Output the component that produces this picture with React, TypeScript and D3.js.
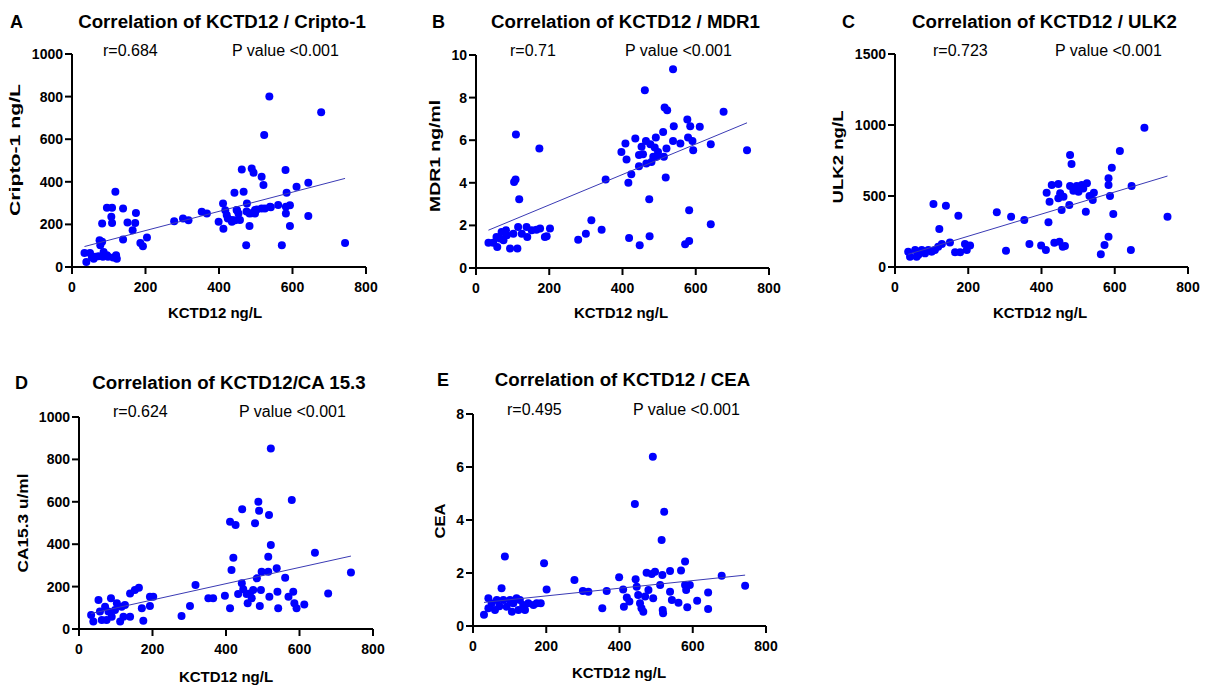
import React from "react"
import * as d3 from "d3"

// KCTD12 (ng/L) vs each marker
const criptoPoints = [
  [34, 66], [39, 24], [49, 66], [54, 47], [59, 39], [63, 48], [72, 50], [75, 126], [77, 102], [82, 118],
  [82, 204], [84, 48], [86, 71], [95, 55], [95, 278], [98, 48], [107, 236], [109, 278], [109, 207], [112, 45],
  [118, 353], [120, 55], [122, 39], [139, 129], [139, 275], [151, 209], [165, 173], [172, 207], [174, 254],
  [186, 113], [193, 97], [204, 138], [278, 215], [302, 228], [317, 220], [353, 259], [367, 251], [399, 212],
  [411, 298], [412, 179], [417, 267], [421, 244], [424, 228], [435, 212], [435, 221], [442, 349], [444, 220],
  [448, 268], [449, 267], [453, 251], [457, 221], [462, 458], [467, 353], [474, 102], [475, 260], [476, 298],
  [483, 192], [483, 251], [489, 463], [489, 252], [494, 443], [498, 251], [498, 268], [503, 270], [516, 424],
  [516, 275], [521, 385], [523, 620], [525, 275], [537, 801], [539, 283], [541, 280], [561, 291], [571, 102],
  [581, 455], [582, 251], [582, 283], [584, 349], [593, 290], [593, 192], [611, 377], [643, 396], [643, 239],
  [678, 727], [743, 113],
]

const mdr1Points = [
  [34, 1.18], [47, 1.18], [56, 1.46], [58, 0.99], [65, 1.38], [70, 1.69], [75, 1.3], [82, 1.77], [84, 1.54],
  [93, 0.91], [102, 1.61], [104, 4.04], [108, 4.15], [109, 6.27], [113, 0.91], [115, 1.93], [118, 3.23],
  [125, 1.61], [138, 1.93], [140, 1.46], [152, 1.77], [165, 1.8], [173, 5.61], [175, 1.85], [188, 1.46],
  [193, 1.49], [202, 1.85], [279, 1.33], [300, 1.61], [315, 2.24], [343, 1.8], [354, 4.15], [397, 5.45],
  [408, 5.85], [411, 5.09], [418, 1.41], [416, 4.0], [424, 4.4], [435, 6.08], [445, 4.78], [445, 5.3],
  [447, 1.07], [452, 5.69], [456, 5.34], [461, 8.35], [464, 5.96], [465, 4.91], [473, 3.23], [474, 1.49],
  [476, 5.81], [479, 4.98], [484, 5.22], [488, 5.66], [491, 6.13], [493, 5.22], [497, 5.45], [511, 6.39],
  [513, 5.22], [515, 7.54], [518, 4.25], [522, 7.41], [520, 5.61], [538, 9.33], [540, 6.66], [538, 5.96],
  [558, 5.85], [571, 1.11], [577, 6.97], [579, 6.13], [582, 2.71], [582, 1.27], [585, 6.66], [591, 5.96],
  [593, 5.53], [611, 6.63], [641, 5.81], [641, 2.05], [676, 7.33], [740, 5.53],
]

const ulk2Points = [
  [36, 108], [41, 73], [55, 120], [59, 73], [64, 87], [73, 120], [82, 96], [91, 120], [100, 108], [105, 444],
  [109, 120], [118, 143], [121, 268], [128, 162], [139, 432], [150, 173], [164, 104], [173, 361], [178, 104],
  [191, 162], [196, 120], [205, 151], [278, 385], [303, 115], [317, 354], [353, 331], [367, 162], [399, 151],
  [412, 120], [414, 523], [419, 315], [422, 460], [428, 577], [435, 171], [446, 585], [449, 178], [446, 484],
  [451, 519], [455, 401], [458, 143], [464, 148], [460, 495], [476, 437], [478, 789], [482, 725], [478, 570],
  [487, 537], [496, 570], [501, 530], [510, 577], [514, 553], [521, 389], [524, 589], [531, 500], [540, 472],
  [543, 523], [562, 89], [572, 155], [583, 213], [583, 625], [583, 577], [587, 500], [592, 699], [596, 373],
  [614, 817], [644, 120], [646, 570], [681, 981], [744, 354],
]

const ca153Points = [
  [33, 66], [39, 35], [53, 137], [57, 82], [62, 42], [71, 105], [75, 42], [80, 82], [87, 145], [89, 58],
  [98, 90], [103, 121], [112, 35], [116, 105], [121, 58], [125, 113], [139, 58], [139, 168], [152, 184],
  [163, 195], [171, 98], [175, 39], [193, 108], [193, 152], [202, 152], [279, 61], [302, 108], [317, 208],
  [352, 145], [365, 145], [397, 157], [411, 98], [411, 506], [415, 278], [420, 336], [426, 491], [433, 165],
  [444, 565], [443, 216], [447, 187], [456, 165], [459, 121], [465, 168], [470, 145], [474, 184], [479, 499],
  [484, 239], [488, 600], [490, 558], [492, 108], [495, 184], [497, 270], [515, 270], [515, 341], [517, 538],
  [522, 396], [522, 852], [518, 152], [538, 286], [540, 176], [542, 98], [561, 242], [570, 152], [579, 608],
  [583, 176], [586, 121], [592, 98], [613, 116], [642, 360], [678, 168], [740, 266],
]

const ceaPoints = [
  [30, 0.42], [42, 0.67], [42, 1.05], [51, 0.86], [60, 0.6], [65, 0.98], [72, 0.75], [78, 1.42], [83, 0.98],
  [87, 2.62], [92, 0.73], [101, 0.98], [106, 0.54], [110, 0.86], [119, 1.05], [124, 0.6], [128, 0.98],
  [137, 0.79], [142, 0.6], [151, 0.86], [165, 0.79], [174, 0.86], [185, 0.86], [194, 2.37], [201, 1.38],
  [277, 1.74], [300, 1.32], [315, 1.29], [353, 0.67], [365, 1.32], [399, 1.84], [410, 1.38], [412, 0.73],
  [420, 1.08], [427, 0.92], [442, 4.6], [444, 1.76], [447, 1.48], [451, 1.17], [456, 0.86], [460, 0.67],
  [465, 0.54], [470, 1.11], [474, 2.01], [479, 1.36], [488, 1.96], [491, 6.39], [492, 1.05], [497, 2.05],
  [511, 1.55], [515, 3.25], [517, 1.92], [518, 0.6], [519, 0.48], [522, 4.31], [538, 1.29], [538, 2.08],
  [543, 0.98], [561, 0.88], [568, 2.09], [579, 2.43], [579, 1.55], [582, 1.36], [585, 0.71], [592, 1.55],
  [612, 0.95], [642, 1.26], [642, 0.64], [679, 1.9], [743, 1.52],
]

// linear fit [slope, intercept] as drawn in the figure
const criptoFit = [0.451, 80.8]
const mdr1Fit = [0.00714, 1.533]
const ulk2Fit = [0.779, 61]
const ca153Fit = [0.383, 60.6]
const ceaFit = [0.001444, 0.847]

const xTicks = [0, 200, 400, 600, 800]
const criptoTicks = [0, 200, 400, 600, 800, 1000]
const mdr1Ticks = [0, 2, 4, 6, 8, 10]
const ulk2Ticks = [0, 500, 1000, 1500]
const ca153Ticks = [0, 200, 400, 600, 800, 1000]
const ceaTicks = [0, 2, 4, 6, 8]

const FONT = "'Liberation Sans', Arial, Helvetica, sans-serif"

const panels = [
  {
    letter: "A", title: "Correlation of KCTD12 / Cripto-1", r: "r=0.684", yLabel: "Cripto-1 ng/L",
    points: criptoPoints, fit: criptoFit, yTicks: criptoTicks,
    x0: 72, x1: 366, y0: 267, y1: 54, letterX: 10, titleY: 28, statY: 56, rX: 103, pX: 232,
    yLabX: 15, yLabY: 150, yLabLen: 132, xLabX: 215, xLabY: 318,
  },
  {
    letter: "B", title: "Correlation of KCTD12 / MDR1", r: "r=0.71", yLabel: "MDR1 ng/ml",
    points: mdr1Points, fit: mdr1Fit, yTicks: mdr1Ticks,
    x0: 476, x1: 769, y0: 268, y1: 55, letterX: 432, titleY: 28, statY: 56, rX: 510, pX: 625,
    yLabX: 435, yLabY: 156, yLabLen: 112, xLabX: 621, xLabY: 318,
  },
  {
    letter: "C", title: "Correlation of KCTD12 / ULK2", r: "r=0.723", yLabel: "ULK2 ng/L",
    points: ulk2Points, fit: ulk2Fit, yTicks: ulk2Ticks,
    x0: 895, x1: 1188, y0: 267, y1: 54, letterX: 842, titleY: 28, statY: 56, rX: 933, pX: 1055,
    yLabX: 838, yLabY: 157, yLabLen: 93, xLabX: 1040, xLabY: 318,
  },
  {
    letter: "D", title: "Correlation of KCTD12/CA 15.3", r: "r=0.624", yLabel: "CA15.3 u/ml",
    points: ca153Points, fit: ca153Fit, yTicks: ca153Ticks,
    x0: 79, x1: 373, y0: 629, y1: 417, letterX: 15, titleY: 389, statY: 417, rX: 113, pX: 239,
    yLabX: 23, yLabY: 523, yLabLen: 99, xLabX: 226, xLabY: 682,
  },
  {
    letter: "E", title: "Correlation of KCTD12 / CEA", r: "r=0.495", yLabel: "CEA",
    points: ceaPoints, fit: ceaFit, yTicks: ceaTicks,
    x0: 473, x1: 766, y0: 626, y1: 414, letterX: 437, titleY: 386, statY: 415, rX: 507, pX: 633,
    yLabX: 440, yLabY: 521, yLabLen: 35, xLabX: 619, xLabY: 678,
  },
]

const Panel = ({ p }) => {
  const yMax = p.yTicks[p.yTicks.length - 1]
  const x = d3.scaleLinear().domain([0, 800]).range([p.x0, p.x1])
  const y = d3.scaleLinear().domain([0, yMax]).range([p.y0, p.y1])
  const [xmin, xmax] = d3.extent(p.points, (d) => d[0])
  const fitLine = d3.line()([
    [x(xmin), y(p.fit[0] * xmin + p.fit[1])],
    [x(xmax), y(p.fit[0] * xmax + p.fit[1])],
  ])
  const titleCenter = (p.x0 + p.x1) / 2 + 3

  return (
    <g fontFamily={FONT}>
      <text x={p.letterX} y={p.titleY} fontSize={18} fontWeight="900">{p.letter}</text>
      <text x={titleCenter} y={p.titleY} fontSize={18.7} fontWeight="bold" textAnchor="middle">{p.title}</text>
      <text x={p.rX} y={p.statY} fontSize={16}>{p.r}</text>
      <text x={p.pX} y={p.statY} fontSize={16}>P value &lt;0.001</text>

      {/* y axis */}
      <line x1={p.x0} x2={p.x0} y1={p.y0 + 1} y2={p.y1} stroke="#000" strokeWidth={2} />
      {p.yTicks.map((t) => (
        <g key={t}>
          <line x1={p.x0 - 7} x2={p.x0} y1={y(t)} y2={y(t)} stroke="#000" strokeWidth={2} />
          <text x={p.x0 - 9} y={y(t)} dy="0.36em" fontSize={14} fontWeight="bold" textAnchor="end">{t}</text>
        </g>
      ))}
      {/* x axis */}
      <line x1={p.x0 - 1} x2={p.x1} y1={p.y0} y2={p.y0} stroke="#000" strokeWidth={2} />
      {xTicks.map((t) => (
        <g key={t}>
          <line x1={x(t)} x2={x(t)} y1={p.y0} y2={p.y0 + 7} stroke="#000" strokeWidth={2} />
          <text x={x(t)} y={p.y0 + 25} fontSize={14} fontWeight="bold" textAnchor="middle">{t}</text>
        </g>
      ))}

      <text x={p.xLabX} y={p.xLabY} fontSize={15} fontWeight="bold" textAnchor="middle">KCTD12 ng/L</text>
      <text
        transform={`translate(${p.yLabX + 5},${p.yLabY}) rotate(-90)`}
        fontSize={15.5}
        fontWeight="bold"
        textAnchor="middle"
        textLength={p.yLabLen}
        lengthAdjust="spacingAndGlyphs"
      >
        {p.yLabel}
      </text>

      {p.points.map((d, i) => (
        <circle key={i} cx={x(d[0])} cy={y(d[1])} r={4} fill="#0000FF" />
      ))}
      <path d={fitLine} stroke="#3a3ab4" strokeWidth={1} fill="none" />
    </g>
  )
}

export default function App() {
  return (
    <svg
      width={1209}
      height={686}
      style={{ position: "absolute", left: 0, top: 0, background: "#fff" }}
    >
      {panels.map((p) => (
        <Panel key={p.letter} p={p} />
      ))}
    </svg>
  )
}
